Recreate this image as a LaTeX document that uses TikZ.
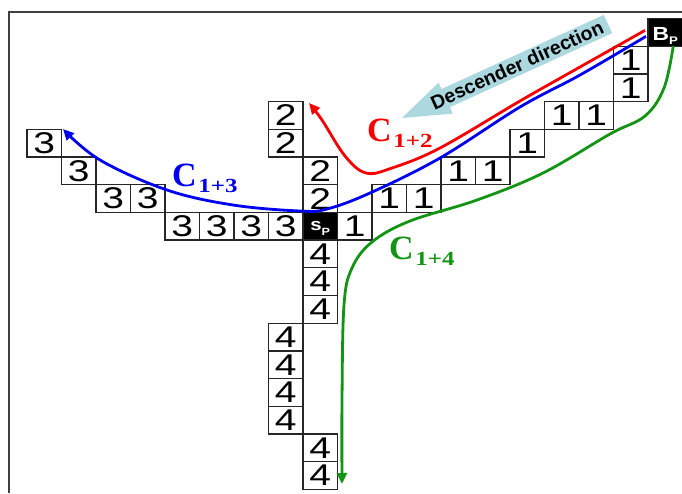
\documentclass[tikz,border=0pt]{standalone}
\usepackage{fontspec}
\usetikzlibrary{arrows.meta}
\newfontfamily\digitfont[FakeStretch=1.3]{Liberation Sans}
\newfontfamily\cellbold[FakeStretch=1.2]{Liberation Sans}
\newfontfamily\labfont{Liberation Serif}
\newfontfamily\labsubfont[FakeStretch=1.25]{Liberation Serif}
\newfontfamily\dirfont{Liberation Sans}
\definecolor{descblue}{HTML}{ACD8E0}
\definecolor{cred}{HTML}{F80000}
\definecolor{cblue}{HTML}{0000F0}
\definecolor{cgreen}{HTML}{149414}
\newcommand\cellat[4]{\node[cell] (#1) at ({320.25+34.5*(#2)},{226.25+27.7*(#3)}) {#4};}
\tikzset{
  cell/.style={draw=black!85, line width=1.3pt, fill=white, minimum width=34.5pt, minimum height=27.7pt,
    inner sep=0pt, outer sep=0pt, font=\digitfont\fontsize{30}{30}\selectfont},
  blackcell/.style={cell, fill=black, text=white, font=\cellbold\bfseries},
  curve/.style={line width=2.8pt, -{Triangle[length=11pt,width=10pt]}},
  clabel/.style={anchor=base west, inner sep=0pt, font=\labfont\bfseries\fontsize{34}{34}\selectfont}
}
\newcommand\labsub[1]{\kern1.5pt\raisebox{-6.5pt}{\labsubfont\bfseries\fontsize{20}{20}\selectfont #1}}
\begin{document}
\begin{tikzpicture}[x=1pt,y=-1pt]
\fill[white] (0,0) rectangle (682,493);
\useasboundingbox (0,0) rectangle (682,493);
% frame
\draw[line width=2pt, black!75] (9,493) -- (9,12) -- (682,12);
% descender direction arrow
\fill[descblue] (402,118) -- (452.8,113.6) -- (449.9,107.2) -- (612.2,33.1) -- (603.8,14.9) -- (441.5,89.0) -- (438.6,82.6) -- cycle;
\node[rotate=24.5, inner sep=0pt, font=\dirfont\bfseries\fontsize{19.5}{19.5}\selectfont] (dir) at (517,65) {Descender direction};
% cells: 3
\cellat{t1}{-8}{-3}{3}
\cellat{t2}{-7}{-2}{3}
\cellat{t3}{-6}{-1}{3}
\cellat{t4}{-5}{-1}{3}
\cellat{t5}{-4}{0}{3}
\cellat{t6}{-3}{0}{3}
\cellat{t7}{-2}{0}{3}
\cellat{t8}{-1}{0}{3}
% cells: 2
\cellat{w1}{-1}{-4}{2}
\cellat{w2}{-1}{-3}{2}
\cellat{w3}{0}{-2}{2}
\cellat{w4}{0}{-1}{2}
% cells: 1
\cellat{o1}{1}{0}{1}
\cellat{o2}{2}{-1}{1}
\cellat{o3}{3}{-1}{1}
\cellat{o4}{4}{-2}{1}
\cellat{o5}{5}{-2}{1}
\cellat{o6}{6}{-3}{1}
\cellat{o7}{7}{-4}{1}
\cellat{o8}{8}{-4}{1}
\cellat{o9}{9}{-5}{1}
\cellat{o10}{9}{-6}{1}
% cells: 4
\cellat{f1}{0}{1}{4}
\cellat{f2}{0}{2}{4}
\cellat{f3}{0}{3}{4}
\cellat{f4}{-1}{4}{4}
\cellat{f5}{-1}{5}{4}
\cellat{f6}{-1}{6}{4}
\cellat{f7}{-1}{7}{4}
\cellat{f8}{0}{8}{4}
\cellat{f9}{0}{9}{4}
% special cells
\node[blackcell, text height=11pt, text depth=1.8pt] (sp) at (320.25,226.25)
  {\fontsize{17}{17}\selectfont s\raisebox{-5pt}{\fontsize{10.5}{10.5}\selectfont P}};
\node[blackcell, text height=19pt, text depth=2pt] (bp) at (665.25,32.35)
  {\fontsize{19}{19}\selectfont B\raisebox{-4pt}{\fontsize{11}{11}\selectfont P}};
% curve end points
\coordinate (redtip) at (309,103);
\coordinate (bluetip) at (63,129);
\coordinate (greentip) at (342,484);
% curves
\draw[curve, cred] plot[smooth, tension=0.6] coordinates {([xshift=-3pt,yshift=2pt]bp.west) (580,67) (520,101) (440,148) (392,168) (366,173) (345,156) (322,120) (redtip)};
\draw[curve, cblue] plot[smooth, tension=0.6] coordinates {([xshift=-2pt,yshift=-4pt]bp.west) (580,75) (520,107) (440,158) (370,193) (327,209) (300,211) (233,205) (167,190) (100,160) (bluetip)};
\draw[curve, cgreen] plot[smooth, tension=0.6] coordinates {([xshift=8pt]bp.south) (664,88) (645,116) (610,134) (543,173) (477,200) (410,221) (372,242) (352,268) (344,305) (342,400) (greentip)};
% labels
\node[clabel, text=cred] (l12) at (367,141) {C\labsub{1+2}};
\node[clabel, text=cblue] (l13) at (172,186) {C\labsub{1+3}};
\node[clabel, text=cgreen] (l14) at (389,259) {C\labsub{1+4}};
\end{tikzpicture}
\end{document}
